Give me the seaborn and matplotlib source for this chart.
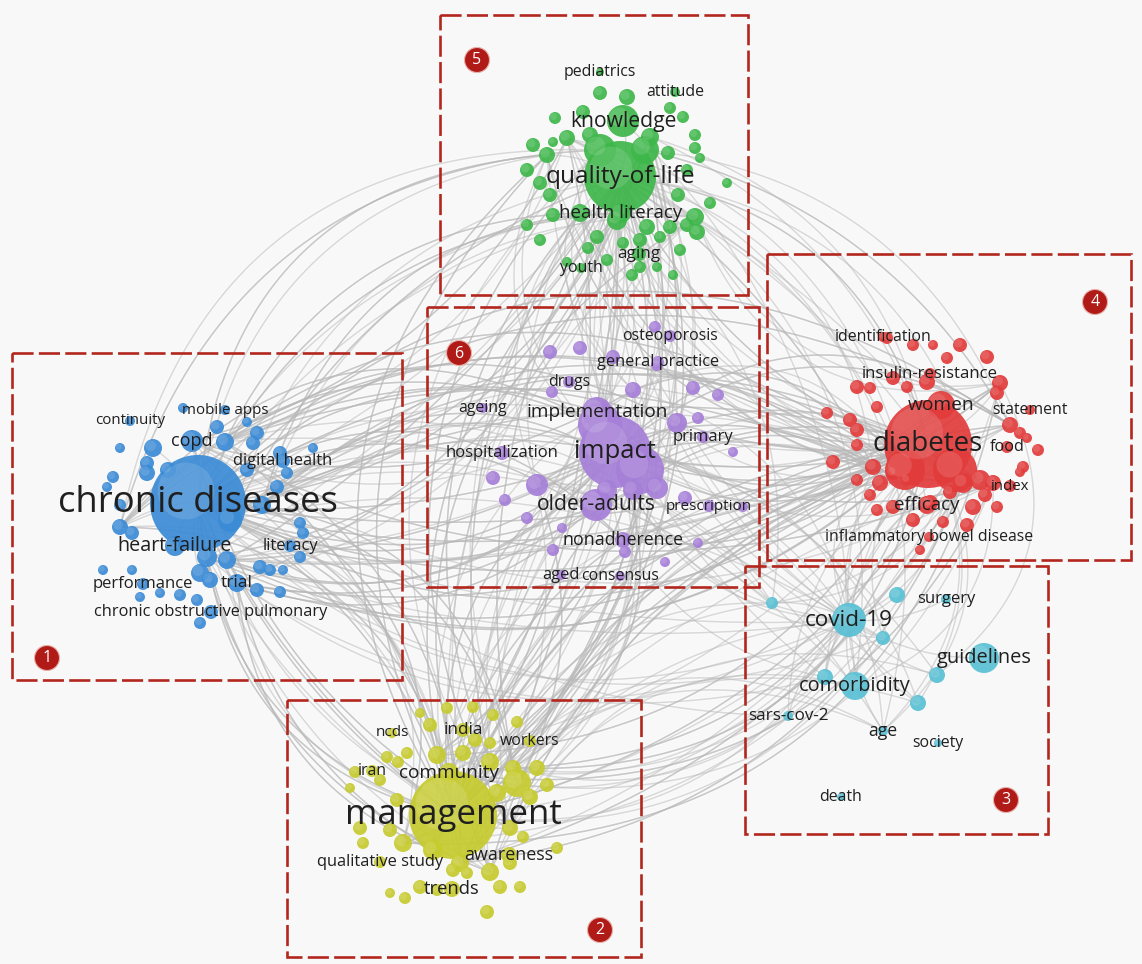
import numpy as np
import pandas as pd
import matplotlib
matplotlib.use("Agg")
import matplotlib.pyplot as plt
import seaborn as sns
from matplotlib.patches import Rectangle, Circle
from matplotlib.collections import LineCollection

# ---- data: map coordinates (picture units) and node weights, by cluster ----
# cluster 1 (blue)
c1_terms = ["chronic diseases", "copd", "mobile apps", "continuity", "digital health",
            "heart-failure", "literacy", "performance", "trial", "chronic obstructive pulmonary"]
c1_x = [198, 192, 225, 130, 283, 175, 290, 143, 237, 211]
c1_y = [503, 441, 410, 421, 461, 546, 546, 584, 583, 612]
c1_w = [48, 11, 5, 5, 7, 10, 6, 6, 9, 7]
c1_bx = [183, 217, 257, 247, 153, 225, 253, 120, 313, 280, 247, 277, 287, 147, 113, 107,
         120, 132, 300, 303, 300, 207, 227, 200, 210, 260, 270, 283, 103, 132, 257, 280,
         180, 160, 140, 200, 197, 147, 230, 168, 120, 262]
c1_by = [408, 427, 433, 422, 448, 442, 443, 448, 448, 453, 470, 487, 473, 473, 477, 487,
         527, 533, 523, 533, 557, 557, 560, 573, 580, 567, 570, 570, 570, 570, 590, 592,
         595, 593, 597, 623, 600, 463, 520, 470, 505, 505]
c1_bw = [5, 7, 7, 5, 9, 9, 7, 5, 5, 7, 7, 7, 6, 8, 6, 5, 8, 7, 6, 6, 6, 10, 9, 9, 8, 7,
         6, 5, 5, 5, 7, 6, 6, 5, 5, 6, 6, 7, 12, 8, 6, 9]

# cluster 2 (yellow)
c2_terms = ["management", "community", "ncds", "india", "workers", "iran",
            "qualitative study", "awareness", "trends"]
c2_x = [453, 449, 392, 463, 530, 372, 380, 509, 452]
c2_y = [815, 773, 733, 730, 741, 771, 862, 855, 889]
c2_w = [44, 10, 5, 7, 6, 6, 6, 8, 8]
c2_bx = [447, 473, 420, 493, 517, 430, 475, 490, 407, 387, 398, 437, 463, 355, 380, 490,
         513, 537, 517, 547, 350, 497, 530, 397, 360, 390, 510, 523, 363, 403, 557, 433,
         460, 510, 490, 453, 467, 420, 437, 500, 520, 390, 405, 487]
c2_by = [708, 707, 713, 715, 722, 725, 740, 743, 753, 757, 762, 755, 753, 772, 780, 762,
         768, 768, 783, 785, 788, 793, 797, 800, 828, 830, 828, 837, 843, 843, 848, 850,
         863, 863, 872, 870, 873, 887, 890, 887, 887, 893, 898, 912]
c2_bw = [6, 6, 5, 6, 6, 7, 7, 6, 6, 6, 6, 9, 8, 6, 6, 9, 8, 8, 14, 7, 5, 9, 8, 7, 7, 7,
         8, 6, 6, 9, 6, 10, 9, 7, 9, 7, 6, 7, 6, 7, 6, 5, 6, 7]

# cluster 3 (cyan)
c3_terms = ["covid-19", "surgery", "guidelines", "comorbidity", "sars-cov-2", "age",
            "society", "death"]
c3_x = [849, 946, 984, 855, 788, 883, 938, 841]
c3_y = [620, 599, 658, 686, 716, 731, 743, 797]
c3_w = [17, 5, 15, 14, 5, 5, 4, 4]
c3_bx = [897, 772, 883, 937, 825, 918]
c3_by = [595, 603, 638, 675, 677, 703]
c3_bw = [8, 6, 7, 8, 8, 8]

# cluster 4 (red)
c4_terms = ["diabetes", "women", "insulin-resistance", "identification", "statement",
            "food", "index", "efficacy", "inflammatory bowel disease"]
c4_x = [928, 941, 930, 883, 1030, 1007, 1010, 927, 929]
c4_y = [444, 405, 374, 337, 410, 447, 486, 505, 537]
c4_w = [44, 14, 6, 5, 5, 6, 6, 9, 5]
c4_bx = [887, 913, 933, 960, 947, 987, 893, 927, 907, 857, 870, 1000, 997, 877, 827, 850,
         857, 1010, 1020, 1027, 857, 833, 873, 1038, 1023, 1020, 857, 880, 893, 907, 963,
         980, 993, 985, 870, 950, 973, 997, 877, 913, 943, 967, 920, 893, 930, 955, 905]
c4_by = [338, 345, 345, 345, 358, 357, 378, 382, 387, 387, 388, 383, 393, 407, 413, 420,
         430, 425, 433, 438, 445, 462, 467, 450, 467, 472, 480, 483, 473, 480, 483, 480,
         483, 495, 495, 492, 507, 507, 510, 520, 522, 525, 550, 507, 503, 470, 470]
c4_bw = [6, 6, 5, 7, 6, 7, 7, 8, 6, 7, 6, 8, 7, 6, 6, 7, 7, 8, 6, 5, 6, 7, 8, 6, 6, 5, 6,
         8, 7, 6, 10, 10, 8, 7, 6, 7, 8, 6, 6, 7, 6, 7, 5, 7, 8, 22, 20]

# cluster 5 (green)
c5_terms = ["quality-of-life", "knowledge", "health literacy", "pediatrics", "attitude",
            "aging", "youth"]
c5_x = [620, 623, 621, 600, 675, 639, 581]
c5_y = [177, 121, 213, 72, 92, 254, 268]
c5_w = [36, 16, 10, 4, 5, 7, 5]
c5_bx = [600, 627, 670, 555, 583, 683, 567, 590, 650, 553, 695, 533, 547, 695, 700, 668,
         527, 687, 727, 540, 550, 710, 678, 695, 697, 687, 553, 527, 540, 597, 647, 670,
         623, 588, 660, 640, 680, 567, 607, 640, 632, 657, 673, 617, 580, 600, 645]
c5_by = [93, 97, 108, 118, 112, 117, 138, 135, 137, 142, 135, 145, 155, 148, 158, 153,
         170, 170, 183, 183, 195, 203, 195, 217, 232, 225, 215, 225, 240, 237, 227, 227,
         243, 248, 237, 240, 250, 262, 260, 267, 275, 267, 275, 220, 213, 150, 150]
c5_bw = [7, 8, 6, 6, 7, 6, 8, 8, 9, 5, 6, 7, 8, 6, 5, 7, 7, 6, 5, 7, 7, 6, 7, 9, 8, 7, 7,
         6, 6, 7, 8, 7, 6, 6, 6, 7, 6, 5, 6, 6, 6, 5, 5, 10, 9, 16, 14]

# cluster 6 (purple)
c6_terms = ["impact", "implementation", "older-adults", "nonadherence", "hospitalization",
            "ageing", "drugs", "general practice", "osteoporosis", "primary",
            "prescription", "aged", "consensus"]
c6_x = [615, 597, 596, 623, 502, 483, 569, 658, 670, 703, 709, 561, 620]
c6_y = [452, 412, 505, 540, 453, 408, 382, 362, 336, 437, 506, 575, 576]
c6_w = [36, 15, 16, 8, 7, 5, 6, 6, 6, 6, 6, 5, 5]
c6_bx = [655, 550, 580, 613, 657, 552, 633, 693, 718, 677, 698, 733, 493, 537, 633, 657,
         685, 743, 505, 527, 562, 625, 553, 698, 665, 607, 600, 640]
c6_by = [327, 352, 348, 357, 365, 392, 390, 388, 395, 423, 418, 452, 478, 485, 490, 488,
         498, 507, 500, 518, 528, 552, 550, 543, 562, 490, 425, 470]
c6_bw = [6, 7, 7, 7, 6, 6, 8, 7, 6, 10, 6, 5, 7, 11, 10, 11, 7, 5, 6, 6, 5, 6, 6, 5, 5,
         10, 22, 24]

# number of links drawn between clusters
link_pairs = [("1", "6", 44), ("1", "4", 44), ("1", "5", 36), ("1", "2", 40), ("1", "3", 14),
              ("6", "4", 40), ("6", "5", 24), ("6", "2", 30), ("4", "5", 30), ("4", "2", 40),
              ("4", "3", 18), ("2", "5", 40), ("2", "3", 16), ("5", "3", 8), ("6", "3", 10)]

# cluster frames (x0, y0, x1, y1) and badge positions
frame_ids = ["1", "2", "3", "4", "5", "6"]
frame_x0 = [12, 287, 745, 767, 440, 427]
frame_y0 = [353, 700, 566, 254, 15, 307]
frame_x1 = [402, 641, 1048, 1131, 748, 759]
frame_y1 = [680, 957, 834, 560, 295, 587]
badge_x = [47, 600, 1006, 1095, 477, 459]
badge_y = [658, 930, 800, 302, 60, 353]

# ---- styles ----
palette = {"1": "#3b8bd6", "2": "#c6cb2e", "3": "#58c0d4", "4": "#e23b3b",
           "5": "#3eb74a", "6": "#a67fd8"}
default_pt = 11.4
label_pt = {"chronic diseases": 26.3, "management": 25.1, "diabetes": 20, "impact": 18.5,
            "quality-of-life": 17.6, "knowledge": 15.2, "covid-19": 16.2, "copd": 13,
            "older-adults": 15.2, "women": 13.8, "community": 13.7, "implementation": 13.7,
            "heart-failure": 14.2, "guidelines": 14.4, "comorbidity": 14.3, "efficacy": 13.5,
            "health literacy": 13.5, "awareness": 12.9, "trends": 13.2, "nonadherence": 12.8,
            "digital health": 11.9, "trial": 12.5, "india": 12.3, "qualitative study": 11.9,
            "performance": 12, "hospitalization": 12, "chronic obstructive pulmonary": 11.8,
            "literacy": 12, "primary": 12, "aged": 11.9, "insulin-resistance": 12.1,
            "surgery": 12, "sars-cov-2": 12.3, "age": 12.7, "aging": 12.3, "food": 11.7,
            "general practice": 11.8, "index": 10.8, "continuity": 10.9, "mobile apps": 10.9,
            "ncds": 11, "prescription": 11}
frame_red = "#b3261e"

sns.set_theme(style="white")
plt.rcParams["font.family"] = ["Open Sans", "DejaVu Sans"]

groups = [("1", c1_terms, c1_x, c1_y, c1_w, c1_bx, c1_by, c1_bw),
          ("2", c2_terms, c2_x, c2_y, c2_w, c2_bx, c2_by, c2_bw),
          ("3", c3_terms, c3_x, c3_y, c3_w, c3_bx, c3_by, c3_bw),
          ("4", c4_terms, c4_x, c4_y, c4_w, c4_bx, c4_by, c4_bw),
          ("5", c5_terms, c5_x, c5_y, c5_w, c5_bx, c5_by, c5_bw),
          ("6", c6_terms, c6_x, c6_y, c6_w, c6_bx, c6_by, c6_bw)]

rows = []
for cid, terms, xs, ys, ws, bxs, bys, bws in groups:
    for t, x, y, w in zip(terms, xs, ys, ws):
        rows.append({"cluster": cid, "term": t, "x": x, "y": y, "r": w})
    for x, y, w in zip(bxs, bys, bws):
        rows.append({"cluster": cid, "term": "", "x": x, "y": y, "r": w})
nodes = pd.DataFrame(rows)
# marker area in pt^2 for a radius given in pixels (dpi 100)
nodes["area"] = (2 * nodes["r"] * 0.72) ** 2

fig = plt.figure(figsize=(11.42, 9.64), dpi=100, facecolor="#f8f8f8")
ax = fig.add_axes([0, 0, 1, 1])
ax.set_facecolor("#f8f8f8")

# ---- links: curved grey arcs between the strongest nodes of two clusters ----
def arc(p0, p1, bend):
    t = np.linspace(0, 1, 60)[:, None]
    d = p1 - p0
    c = (p0 + p1) / 2 + bend * np.array([-d[1], d[0]])
    return (1 - t) ** 2 * p0 + 2 * (1 - t) * t * c + t ** 2 * p1

segs = []
top = {}
for cid in palette:
    sub = nodes[nodes["cluster"] == cid].sort_values("r", ascending=False)
    top[cid] = sub[["x", "y"]].to_numpy(dtype=float)[:12]
bends = [0.34, -0.3, 0.22, -0.42, 0.12, -0.2, 0.3, -0.36]
for a, b, n in link_pairs:
    pa, pb = top[a], top[b]
    for k in range(n):
        p0 = pa[(k * 5) % len(pa)] if k % 3 else pa[0]
        p1 = pb[(k * 7 + 1) % len(pb)] if k % 4 else pb[0]
        segs.append(arc(p0, p1, bends[k % len(bends)]))
for cid in palette:
    hub = top[cid][0]
    for p in top[cid][1:]:
        segs.append(arc(hub, p, 0.15))

ax.add_collection(LineCollection(segs, colors="#ffffff", linewidths=2.8, alpha=0.35, zorder=1))
ax.add_collection(LineCollection(segs, colors="#b8b8b8", linewidths=1.1, alpha=0.5, zorder=1))

# ---- bubbles ----
amin, amax = nodes["area"].min(), nodes["area"].max()
order = nodes.sort_values("r")
sns.scatterplot(data=order, x="x", y="y", hue="cluster", palette=palette,
                size="area", sizes=(amin, amax), size_norm=(amin, amax),
                linewidth=0, alpha=0.92, legend=False, ax=ax, zorder=2)
# soft highlight to mimic shaded spheres
hl = order.copy()
hl["x"] = hl["x"] - hl["r"] * 0.25
hl["y"] = hl["y"] - hl["r"] * 0.25
hl["area"] = hl["area"] * 0.35
ax.scatter(hl["x"], hl["y"], s=hl["area"], color="white", alpha=0.12, linewidths=0, zorder=2)

# ---- labels ----
for _, row in nodes[nodes["term"] != ""].iterrows():
    ax.text(row["x"], row["y"], row["term"], ha="center", va="center",
            fontsize=label_pt.get(row["term"], default_pt), color="#1f1f1f", zorder=3)

# ---- cluster frames and numbered badges ----
for fid, x0, y0, x1, y1, bx, by in zip(frame_ids, frame_x0, frame_y0, frame_x1, frame_y1,
                                       badge_x, badge_y):
    ax.add_patch(Rectangle((x0, y0), x1 - x0, y1 - y0, fill=False, edgecolor=frame_red,
                           linewidth=1.9, linestyle=(0, (8, 2)), zorder=4))
    ax.add_patch(Circle((bx, by), 12.5, facecolor="#b01a17", edgecolor="#e8b0a8",
                        linewidth=0.8, zorder=5))
    ax.text(bx, by + 0.5, fid, ha="center", va="center", color="white", fontsize=11.5,
            zorder=6)

ax.set_xlim(0, 1142)
ax.set_ylim(964, 0)
ax.axis("off")
fig.savefig("out.png", dpi=100, facecolor=fig.get_facecolor())
